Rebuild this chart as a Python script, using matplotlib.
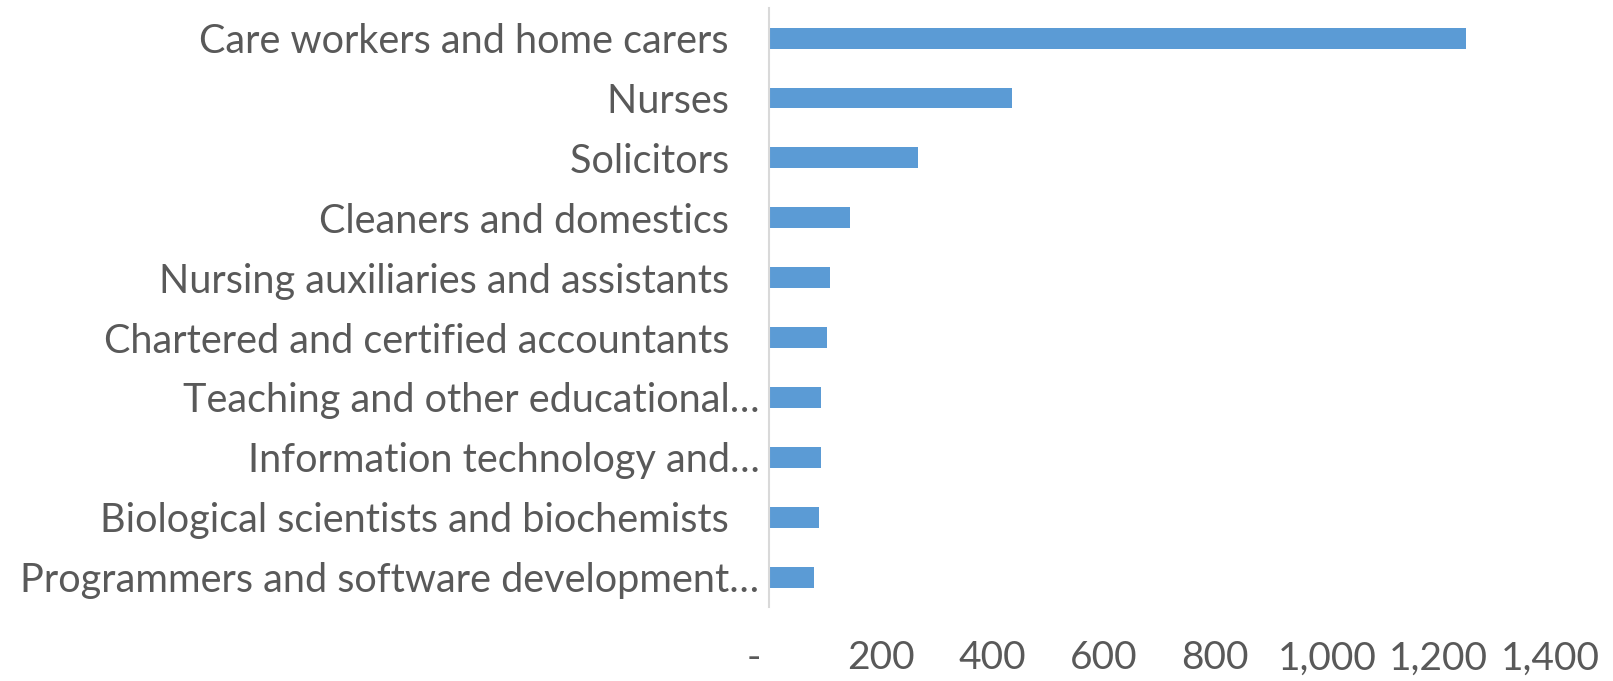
import matplotlib.pyplot as plt
from matplotlib.ticker import FuncFormatter

CATEGORIES = [
    "Care workers and home carers",
    "Nurses",
    "Solicitors",
    "Cleaners and domestics",
    "Nursing auxiliaries and assistants",
    "Chartered and certified accountants",
    "Teaching and other educational\u2026",
    "Information technology and\u2026",
    "Biological scientists and biochemists",
    "Programmers and software development\u2026",
]
VALUES = [1249, 435, 267, 145, 109, 103, 93, 93, 89, 80]
X_TICKS = [0, 200, 400, 600, 800, 1000, 1200, 1400]

BAR_COLOR = "#5B9BD5"
TEXT_COLOR = "#595959"
AXIS_COLOR = "#D9D9D9"


def tick_fmt(v, _pos):
    if v == 0:
        return "-\u00a0\u00a0\u00a0"
    return f"{v:,.0f}"


def main():
    plt.rcParams["font.family"] = ["Lato", "DejaVu Sans"]
    fig = plt.figure(figsize=(16.13, 6.81), dpi=100)
    ax = fig.add_axes([0.4768, 0.1087, 0.961 - 0.4768, 0.988 - 0.1087])

    # full labels in the original keep a little space before the axis
    labels = [c if c.endswith("\u2026") else c + "\u00a0\u00a0\u00a0" for c in CATEGORIES]
    ypos = list(range(len(CATEGORIES)))
    ax.barh(ypos, VALUES, height=0.35, color=BAR_COLOR)

    ax.set_ylim(-0.5, len(CATEGORIES) - 0.5)
    ax.invert_yaxis()
    ax.set_yticks(ypos)
    ax.set_yticklabels(labels)
    ax.set_xlim(0, 1400)
    ax.set_xticks(X_TICKS)
    ax.xaxis.set_major_formatter(FuncFormatter(tick_fmt))

    for side in ["top", "right", "bottom"]:
        ax.spines[side].set_visible(False)
    ax.spines["left"].set_color(AXIS_COLOR)
    ax.spines["left"].set_linewidth(1.5)

    ax.tick_params(axis="y", length=0, pad=7, labelsize=28.5, labelcolor=TEXT_COLOR)
    ax.tick_params(axis="x", length=0, pad=24, labelsize=28, labelcolor=TEXT_COLOR)

    fig.savefig("out.png")
    plt.close(fig)


if __name__ == "__main__":
    main()
